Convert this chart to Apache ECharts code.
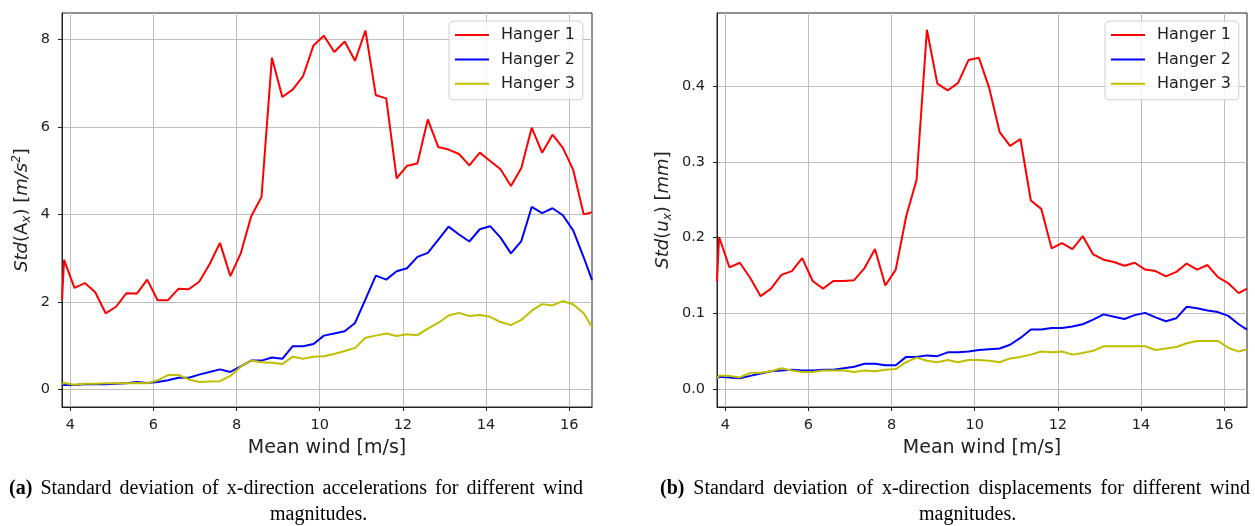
<!DOCTYPE html>
<html>
<head>
    <meta charset="utf-8">
    <title>Hanger std vs mean wind</title>
    <script src="https://cdn.jsdelivr.net/npm/echarts@6/dist/echarts.min.js"></script>
    <style>
        body { margin: 0; background: #fff; }
        #main { position: absolute; left: 0; top: 0; width: 1255px; height: 526px; }
        .cap { position: absolute; font-family: "Liberation Serif", "Times New Roman", serif;
               font-size: 20px; line-height: 20px; color: #000; white-space: nowrap; }
        .just { text-align: justify; text-align-last: justify; white-space: normal; }
    </style>
</head>
<body>
<div id="main"></div>
<div class="cap just" style="left:9px; top:477px; width:574px;"><b>(a)</b> Standard deviation of x-direction accelerations for different wind</div>
<div class="cap" style="left:270px; top:503px;">magnitudes.</div>
<div class="cap just" style="left:660px; top:477px; width:590px;"><b>(b)</b> Standard deviation of x-direction displacements for different wind</div>
<div class="cap" style="left:919px; top:503px;">magnitudes.</div>
<script type="text/javascript">
    // mean wind of each bin [m/s]
    var windSpeed = [3.8, 3.85, 4.1, 4.35, 4.6, 4.85, 5.1, 5.35, 5.6, 5.85, 6.1, 6.35, 6.6, 6.85, 7.1, 7.35,
        7.6, 7.85, 8.1, 8.35, 8.6, 8.85, 9.1, 9.35, 9.6, 9.85, 10.1, 10.35, 10.6, 10.85, 11.1, 11.35, 11.6,
        11.85, 12.1, 12.35, 12.6, 12.85, 13.1, 13.35, 13.6, 13.85, 14.1, 14.35, 14.6, 14.85, 15.1, 15.35,
        15.6, 15.85, 16.1, 16.35, 16.55];

    // std of x acceleration [m/s^2]
    var accHanger1 = [2.04, 2.96, 2.32, 2.43, 2.22, 1.74, 1.89, 2.2, 2.19, 2.51, 2.04, 2.04, 2.3, 2.29, 2.46, 2.86,
        3.35, 2.59, 3.11, 3.95, 4.4, 7.58, 6.68, 6.85, 7.16, 7.86, 8.08, 7.71, 7.95, 7.51, 8.2, 6.72, 6.65,
        4.82, 5.11, 5.16, 6.17, 5.54, 5.48, 5.38, 5.12, 5.41, 5.22, 5.03, 4.65, 5.06, 5.98, 5.41, 5.82, 5.52,
        5.01, 4.0, 4.05];
    var accHanger2 = [0.1, 0.11, 0.1, 0.12, 0.12, 0.12, 0.13, 0.14, 0.17, 0.15, 0.17, 0.21, 0.27, 0.27, 0.34, 0.4,
        0.46, 0.4, 0.53, 0.66, 0.66, 0.73, 0.7, 0.99, 0.99, 1.04, 1.23, 1.28, 1.33, 1.52, 2.06, 2.6, 2.51,
        2.7, 2.77, 3.03, 3.12, 3.42, 3.72, 3.54, 3.38, 3.66, 3.73, 3.47, 3.11, 3.39, 4.17, 4.03, 4.14, 3.98,
        3.63, 3.02, 2.5];
    var accHanger3 = [0.12, 0.15, 0.11, 0.13, 0.13, 0.14, 0.14, 0.14, 0.15, 0.14, 0.21, 0.33, 0.33, 0.23, 0.17, 0.18,
        0.19, 0.31, 0.52, 0.66, 0.62, 0.61, 0.58, 0.75, 0.7, 0.75, 0.76, 0.81, 0.88, 0.95, 1.18, 1.23, 1.28,
        1.22, 1.26, 1.24, 1.39, 1.52, 1.69, 1.75, 1.68, 1.7, 1.66, 1.54, 1.47, 1.59, 1.8, 1.95, 1.92, 2.02,
        1.94, 1.74, 1.43];

    // std of x displacement [mm]
    var dispHanger1 = [0.142, 0.201, 0.161, 0.167, 0.147, 0.123, 0.133, 0.151, 0.156, 0.173, 0.143, 0.133, 0.143,
        0.143, 0.144, 0.160, 0.185, 0.137, 0.158, 0.228, 0.276, 0.474, 0.403, 0.394, 0.404, 0.434, 0.437,
        0.397, 0.339, 0.321, 0.330, 0.249, 0.238, 0.186, 0.193, 0.185, 0.202, 0.178, 0.171, 0.168, 0.163,
        0.167, 0.158, 0.156, 0.149, 0.155, 0.166, 0.158, 0.164, 0.148, 0.140, 0.127, 0.133];
    var dispHanger2 = [0.015, 0.017, 0.016, 0.015, 0.018, 0.021, 0.024, 0.025, 0.026, 0.025, 0.025, 0.026, 0.026,
        0.028, 0.030, 0.034, 0.034, 0.032, 0.032, 0.043, 0.043, 0.045, 0.044, 0.049, 0.049, 0.050, 0.052,
        0.053, 0.054, 0.059, 0.068, 0.079, 0.079, 0.081, 0.081, 0.083, 0.086, 0.092, 0.099, 0.096, 0.093,
        0.098, 0.101, 0.095, 0.090, 0.094, 0.109, 0.107, 0.104, 0.102, 0.097, 0.086, 0.079];
    var dispHanger3 = [0.015, 0.018, 0.018, 0.016, 0.022, 0.022, 0.024, 0.028, 0.025, 0.023, 0.023, 0.025, 0.025,
        0.025, 0.023, 0.025, 0.024, 0.026, 0.027, 0.036, 0.042, 0.038, 0.036, 0.039, 0.036, 0.039, 0.039,
        0.038, 0.036, 0.041, 0.043, 0.046, 0.050, 0.049, 0.050, 0.046, 0.048, 0.051, 0.057, 0.057, 0.057,
        0.057, 0.057, 0.052, 0.054, 0.056, 0.061, 0.064, 0.064, 0.064, 0.055, 0.050, 0.053];

    var hangerNames = ['Hanger 1', 'Hanger 2', 'Hanger 3'];
    var hangerColors = ['#ff0000', '#0000ff', '#bfbf00'];

    var xTicks = [4, 6, 8, 10, 12, 14, 16];
    var yTicksAcc = [0, 2, 4, 6, 8];
    var yTicksDisp = [0, 0.1, 0.2, 0.3, 0.4];

    var FONT = 'DejaVu Sans';
    var TXT = '#222';
    var GRIDLINE = '#bdbdbd';

    function pairs(ys) {
        var out = [];
        for (var i = 0; i < windSpeed.length; i++) {
            out.push([windSpeed[i], ys[i]]);
        }
        return out;
    }

    function xAxisOf(idx) {
        return {
            type: 'value', gridIndex: idx, min: 3.8, max: 16.55, splitNumber: 6,
            name: 'Mean wind [m/s]', nameLocation: 'middle', nameGap: 32,
            nameTextStyle: {fontFamily: FONT, fontSize: 19, color: TXT},
            axisLine: {onZero: false, lineStyle: {color: TXT, width: 1}},
            axisTick: {length: 4, customValues: xTicks, lineStyle: {color: TXT}},
            axisLabel: {customValues: xTicks, margin: 11, fontFamily: FONT, fontSize: 14.5, color: TXT},
            splitLine: {show: true, lineStyle: {color: GRIDLINE, width: 1}}
        };
    }

    var nameRich = {
        i: {fontFamily: FONT, fontSize: 18, fontStyle: 'italic', color: TXT, lineHeight: 22},
        sub: {fontFamily: FONT, fontSize: 12, fontStyle: 'italic', color: TXT, lineHeight: 12, verticalAlign: 'bottom'},
        sup: {fontFamily: FONT, fontSize: 12, fontStyle: 'italic', color: TXT, lineHeight: 12, verticalAlign: 'top'}
    };

    function yAxisOf(idx, min, max, ticks, name, gap, fmt) {
        return {
            type: 'value', gridIndex: idx, min: min, max: max, splitNumber: 5,
            name: name, nameLocation: 'middle', nameGap: gap,
            nameTextStyle: {fontFamily: FONT, fontSize: 18, color: TXT, lineHeight: 22, rich: nameRich},
            axisLine: {show: true, onZero: false, lineStyle: {color: TXT, width: 1}},
            axisTick: {show: true, length: 4, customValues: ticks, lineStyle: {color: TXT}},
            axisLabel: {customValues: ticks, margin: 12, fontFamily: FONT, fontSize: 14.5, color: TXT, formatter: fmt},
            splitLine: {show: true, lineStyle: {color: GRIDLINE, width: 1}}
        };
    }

    function legendOf(left) {
        return {
            orient: 'vertical', left: left, top: 21,
            data: hangerNames,
            itemWidth: 34, itemHeight: 14, itemGap: 8.4,
            padding: [6, 8, 8, 5],
            itemStyle: {opacity: 0},
            backgroundColor: 'rgba(255,255,255,0.8)',
            borderColor: '#d0d0d0', borderWidth: 1, borderRadius: 4,
            textStyle: {fontFamily: FONT, fontSize: 16, color: TXT, padding: [0, 0, 0, 7]}
        };
    }

    var accSets = [accHanger1, accHanger2, accHanger3];
    var dispSets = [dispHanger1, dispHanger2, dispHanger3];
    var series = [];
    for (var s = 0; s < 3; s++) {
        series.push({
            name: hangerNames[s], type: 'line', xAxisIndex: 0, yAxisIndex: 0,
            data: pairs(accSets[s]), symbol: 'none',
            lineStyle: {color: hangerColors[s], width: 2}, itemStyle: {color: hangerColors[s]}
        });
    }
    for (var s = 0; s < 3; s++) {
        series.push({
            name: hangerNames[s], type: 'line', xAxisIndex: 1, yAxisIndex: 1,
            data: pairs(dispSets[s]), symbol: 'none',
            lineStyle: {color: hangerColors[s], width: 2}, itemStyle: {color: hangerColors[s]}
        });
    }

    var myChart = echarts.init(document.getElementById('main'));
    var option = {
        animation: false,
        backgroundColor: '#fff',
        grid: [
            {left: 62, top: 13, width: 530, height: 394, show: true, borderColor: TXT, borderWidth: 1},
            {left: 717, top: 13, width: 530, height: 394, show: true, borderColor: TXT, borderWidth: 1}
        ],
        legend: [legendOf(449), legendOf(1105)],
        xAxis: [xAxisOf(0), xAxisOf(1)],
        yAxis: [
            yAxisOf(0, -0.4, 8.6, yTicksAcc, '{i|Std}(A{sub|x}) [{i|m/s}{sup|2}]', 29,
                function (v) { return String(v); }),
            yAxisOf(1, -0.023, 0.496, yTicksDisp, '{i|Std}({i|u}{sub|x}) [{i|mm}]', 43,
                function (v) { return v.toFixed(1); })
        ],
        series: series
    };
    myChart.setOption(option);
</script>
</body>
</html>
